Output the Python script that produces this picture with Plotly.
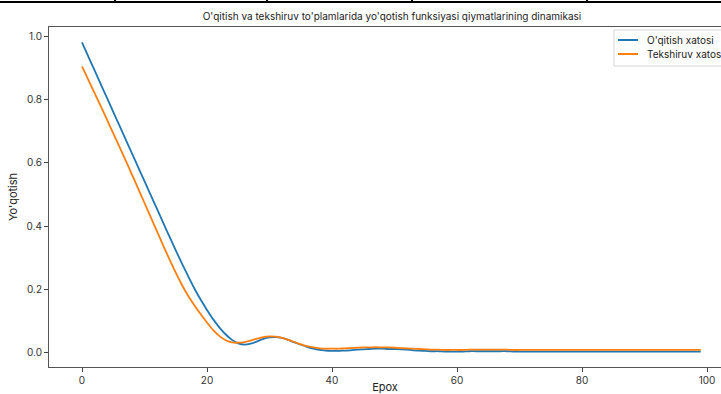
import plotly.graph_objects as go

epochs = list(range(100))

train_loss = [
    0.982, 0.938, 0.894, 0.850, 0.806, 0.762, 0.718, 0.674, 0.630, 0.586,
    0.542, 0.498, 0.454, 0.410, 0.366, 0.323, 0.281, 0.240, 0.201, 0.166,
    0.134, 0.104, 0.078, 0.056, 0.039, 0.028, 0.024, 0.027, 0.034, 0.042,
    0.047, 0.048, 0.045, 0.039, 0.031, 0.024, 0.017, 0.011, 0.007, 0.005,
    0.004, 0.004, 0.005, 0.006, 0.008, 0.009, 0.010, 0.011, 0.011, 0.010,
    0.010, 0.009, 0.008, 0.006, 0.005, 0.004, 0.003, 0.003, 0.002, 0.002,
    0.002, 0.002, 0.003, 0.003, 0.003, 0.003, 0.003, 0.003, 0.003, 0.002,
    0.002, 0.002, 0.002, 0.002, 0.002, 0.002, 0.002, 0.002, 0.002, 0.002,
    0.002, 0.002, 0.002, 0.002, 0.002, 0.002, 0.002, 0.002, 0.002, 0.002,
    0.002, 0.002, 0.002, 0.002, 0.002, 0.002, 0.002, 0.002, 0.002, 0.002,
]

val_loss = [
    0.906, 0.864, 0.822, 0.780, 0.737, 0.694, 0.651, 0.607, 0.563, 0.518,
    0.473, 0.428, 0.383, 0.338, 0.294, 0.252, 0.213, 0.178, 0.148, 0.120,
    0.094, 0.070, 0.051, 0.038, 0.031, 0.030, 0.032, 0.037, 0.043, 0.048,
    0.050, 0.049, 0.045, 0.039, 0.032, 0.025, 0.019, 0.015, 0.012, 0.011,
    0.011, 0.011, 0.012, 0.013, 0.014, 0.015, 0.015, 0.016, 0.015, 0.015,
    0.014, 0.013, 0.012, 0.011, 0.010, 0.009, 0.008, 0.008, 0.007, 0.007,
    0.007, 0.007, 0.008, 0.008, 0.008, 0.008, 0.008, 0.008, 0.008, 0.007,
    0.007, 0.007, 0.007, 0.007, 0.007, 0.007, 0.007, 0.007, 0.007, 0.007,
    0.007, 0.007, 0.007, 0.007, 0.007, 0.007, 0.007, 0.007, 0.007, 0.007,
    0.007, 0.007, 0.007, 0.007, 0.007, 0.007, 0.007, 0.007, 0.007, 0.007,
]

series_names = ["O'qitish xatosi", "Tekshiruv xatosi"]
series_colors = ["#1f77b4", "#ff7f0e"]
x_ticks = [0, 20, 40, 60, 80, 100]
y_ticks = [0.0, 0.2, 0.4, 0.6, 0.8, 1.0]

W, H = 721, 394
ML, MR, MT, MB = 49, 0, 27, 27
PW = W - ML - MR
PH = H - MT - MB

def px_x(p):
    return (p - ML) / PW

def px_y(p):
    return (H - MB - p) / PH

FONT = "Inter, Roboto, sans-serif"
TXT = "#333333"

fig = go.Figure()
for name, vals, col in zip(series_names, [train_loss, val_loss], series_colors):
    fig.add_trace(go.Scatter(x=epochs, y=vals, mode="lines", name=name, showlegend=False,
                             line=dict(color=col, width=1.8, shape="spline", smoothing=0.8)))

# top border decoration (table edge above the chart)
shapes = [dict(type="line", xref="paper", yref="paper", x0=px_x(0), x1=px_x(W),
               y0=px_y(2), y1=px_y(2), line=dict(color="black", width=2))]
for vx in [115, 267, 412, 587]:
    shapes.append(dict(type="line", xref="paper", yref="paper", x0=px_x(vx), x1=px_x(vx),
                       y0=px_y(0), y1=px_y(3), line=dict(color="black", width=2)))

# legend box (clipped at the right edge, as in the reference)
shapes.append(dict(type="rect", xref="paper", yref="paper", x0=px_x(614), x1=px_x(W + 20),
                   y0=px_y(66), y1=px_y(30), line=dict(color="#d6d6d6", width=1),
                   fillcolor="rgba(255,255,255,0.85)", layer="above"))
annotations = []
for i, (name, col) in enumerate(zip(series_names, series_colors)):
    ly = 40 + i * 14
    shapes.append(dict(type="line", xref="paper", yref="paper", x0=px_x(618), x1=px_x(638),
                       y0=px_y(ly), y1=px_y(ly), line=dict(color=col, width=2), layer="above"))
    annotations.append(dict(text=name, xref="paper", yref="paper", x=px_x(645), y=px_y(ly),
                            xanchor="left", yanchor="middle", showarrow=False,
                            font=dict(family=FONT, size=10, color="#222222")))

fig.update_layout(
    width=W, height=H,
    margin=dict(l=ML, r=MR, t=MT, b=MB, pad=0, autoexpand=False),
    paper_bgcolor="white", plot_bgcolor="white",
    font=dict(family=FONT, size=10, color=TXT),
    title=dict(text="O'qitish va tekshiruv to'plamlarida yo'qotish funksiyasi qiymatlarining dinamikasi",
               x=392 / W, xanchor="center", y=1 - 16 / H, yanchor="middle",
               font=dict(family=FONT, size=10, color="#222222")),
    xaxis=dict(range=[-(82 - ML) / 6.25, (W - 82) / 6.25], tickvals=x_ticks, ticks="outside", ticklen=4,
               tickcolor="#444444", showline=True, linecolor="#555555", linewidth=1, mirror=True,
               showgrid=False, zeroline=False, tickfont=dict(size=10, color=TXT), automargin=False,
               title=dict(text="Epox", font=dict(size=11, color="#222222"), standoff=4)),
    yaxis=dict(range=[-0.047, 1.031], tickvals=y_ticks, tickformat=".1f", ticks="outside", ticklen=4,
               tickcolor="#444444", showline=True, linecolor="#555555", linewidth=1,
               showgrid=False, zeroline=False, tickfont=dict(size=10, color=TXT), automargin=False,
               title=dict(text="Yo'qotish", font=dict(size=11, color="#222222"), standoff=6)),
    shapes=shapes,
    annotations=annotations,
    showlegend=False,
)

fig.write_html("out.html")
